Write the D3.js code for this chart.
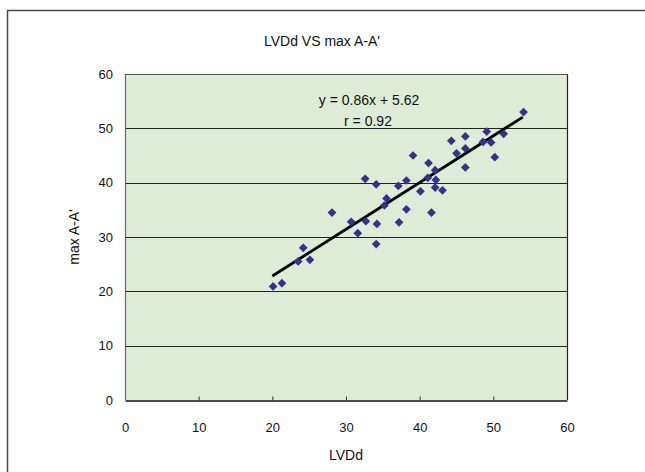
<!DOCTYPE html>
<html><head><meta charset="utf-8">
<script src="https://cdn.jsdelivr.net/npm/d3@7"></script>
<style>
html,body{margin:0;padding:0;background:#fff;}
svg text{font-family:"Liberation Sans",Arial,sans-serif;fill:#111;}
</style></head>
<body><svg id="c" width="645" height="472"></svg>
<script>
const title = "LVDd VS max A-A'";
const xLabel = "LVDd";
const yLabel = "max A-A'";
const xTicks = [0,10,20,30,40,50,60];
const yTicks = [0,10,20,30,40,50,60];
const lvdd = [20.1,21.3,23.5,24.2,25.1,28.1,30.7,31.6,32.7,34.2,34.1,32.6,34.1,35.5,35.2,38.2,37.2,41.6,40.1,43.1,42.1,42.2,41.1,37.1,38.2,39.1,41.2,42.1,46.2,45.0,46.2,44.3,46.2,48.6,49.7,49.1,51.4,50.2,54.1];
const maxAA = [20.9,21.5,25.5,28.0,25.8,34.5,32.8,30.7,32.9,32.4,28.7,40.7,39.7,37.1,35.8,35.1,32.7,34.5,38.4,38.6,39.1,40.5,40.9,39.4,40.4,45.0,43.6,42.3,42.8,45.4,46.3,47.7,48.5,47.5,47.4,49.4,49.0,44.7,53.0];
const slope = 0.86, intercept = 5.62;
const fitRange = [20, 54];
const eqText = "y = 0.86x + 5.62";
const rText = "r = 0.92";

const svg = d3.select("#c");
const L = 125, R = 567, T = 74, B = 400;
const x = d3.scaleLinear().domain([0,60]).range([L,R]);
const y = d3.scaleLinear().domain([0,60]).range([B,T]);

// outer chart border
svg.append("rect").attr("x",7.5).attr("y",10.5).attr("width",700).attr("height",500)
  .attr("fill","#fff").attr("stroke","#4a4a4a").attr("stroke-width",1.5);

// plot area
svg.append("rect").attr("x",L).attr("y",T).attr("width",R-L).attr("height",B-T)
  .attr("fill","#deebd7");

// gridlines
svg.append("g").selectAll("line").data(yTicks.filter(d=>d>0)).join("line")
  .attr("x1",L).attr("x2",R).attr("y1",d=>Math.round(y(d))+0.5).attr("y2",d=>Math.round(y(d))+0.5)
  .attr("stroke","#222").attr("stroke-width",1.2);

// plot border left/right
svg.append("line").attr("x1",L+0.5).attr("x2",L+0.5).attr("y1",T).attr("y2",B).attr("stroke","#666").attr("stroke-width",1.2);
svg.append("line").attr("x1",R+0.5).attr("x2",R+0.5).attr("y1",T).attr("y2",B).attr("stroke","#222").attr("stroke-width",1.2);
svg.append("line").attr("x1",L).attr("x2",R+1).attr("y1",T+0.5).attr("y2",T+0.5).attr("stroke","#555").attr("stroke-width",1.2);

// x axis
const xAxis = d3.axisBottom(x).tickValues(xTicks).tickSizeInner(-4).tickSizeOuter(0).tickPadding(22);
const gx = svg.append("g").attr("transform",`translate(0,${B+0.5})`).call(xAxis);
gx.select(".domain").attr("stroke","#111").attr("stroke-width",1.5);
gx.selectAll(".tick line").attr("stroke","#333").filter(d=>d===0||d===60).remove();
gx.selectAll("text").attr("font-size",13).attr("fill","#222").attr("font-family","'Liberation Sans',Arial,sans-serif");

// y axis labels
const yAxis = d3.axisLeft(y).tickValues(yTicks).tickSize(0).tickPadding(12);
const gy = svg.append("g").attr("transform",`translate(${L},0)`).call(yAxis);
gy.select(".domain").remove();
gy.selectAll("text").attr("font-size",13).attr("fill","#222").attr("font-family","'Liberation Sans',Arial,sans-serif");

// trend line
const fit = fitRange.map(v=>[v, slope*v+intercept]);
svg.append("path").datum(fit)
  .attr("d", d3.line().x(d=>x(d[0])).y(d=>y(d[1])))
  .attr("stroke","#000").attr("stroke-width",2.8).attr("fill","none");

// points
const pts = lvdd.map((v,i)=>[v, maxAA[i]]);
svg.append("g").selectAll("path").data(pts).join("path")
  .attr("d", d3.symbol(d3.symbolSquare, 38)())
  .attr("transform", d=>`translate(${x(d[0])},${y(d[1])}) rotate(45)`)
  .attr("fill","#38308a");

// equation text
svg.append("text").attr("x",369).attr("y",105).attr("text-anchor","middle").attr("font-size",14).text(eqText);
svg.append("text").attr("x",368).attr("y",126).attr("text-anchor","middle").attr("font-size",14).text(rText);

// titles
svg.append("text").attr("x",322).attr("y",46).attr("text-anchor","middle").attr("font-size",14).text(title);
svg.append("text").attr("x",(L+R)/2).attr("y",460).attr("text-anchor","middle").attr("font-size",14).text(xLabel);
svg.append("text").attr("transform",`translate(79,${(T+B)/2}) rotate(-90)`).attr("text-anchor","middle").attr("font-size",14).text(yLabel);
</script></body></html>
